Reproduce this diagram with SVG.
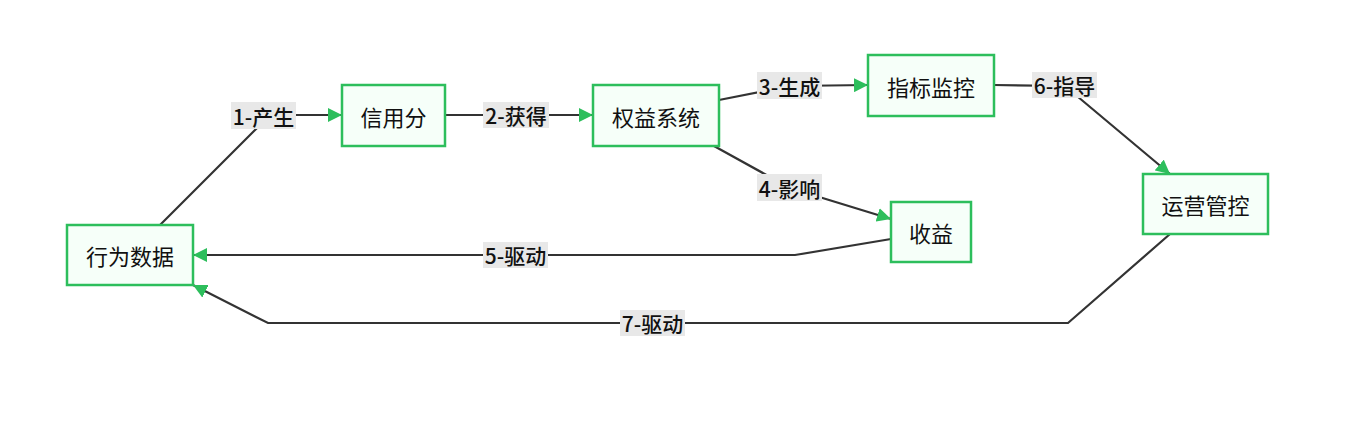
<svg xmlns="http://www.w3.org/2000/svg" width="1372" height="430" viewBox="0 0 1372 430">
<style>
.node rect{fill:#f6fff9;stroke:#2dbe5c;stroke-width:2.5}
.node text{font-family:"Noto Sans CJK SC","Noto Sans",sans-serif;font-size:22px;fill:#111;text-anchor:middle;dominant-baseline:central}
.edge{fill:none;stroke:#333;stroke-width:2.2}
.lbl rect{fill:#e8e8e8}
.lbl text{font-family:"Noto Sans CJK SC","Noto Sans",sans-serif;font-size:21px;font-weight:500;fill:#111;text-anchor:middle;dominant-baseline:central}
</style>
<defs>
<marker id="arr" viewBox="0 0 10 10" refX="10" refY="5" markerWidth="14" markerHeight="14" markerUnits="userSpaceOnUse" orient="auto">
<path d="M0,0 L10,5 L0,10 z" fill="#2dbe5c"/>
</marker>
</defs>
<rect width="1372" height="430" fill="#fff"/>
<g id="edges">
<path class="edge" d="M160,225 L258,127 L264,115 L342,115" marker-end="url(#arr)"/>
<path class="edge" d="M445,115 L593,115" marker-end="url(#arr)"/>
<path class="edge" d="M719,100 L790,86 L868,85" marker-end="url(#arr)"/>
<path class="edge" d="M714,146 L790,188 L891,219" marker-end="url(#arr)"/>
<path class="edge" d="M891,239 L795,255 L193,255" marker-end="url(#arr)"/>
<path class="edge" d="M994,85 L1065,86 L1170,174" marker-end="url(#arr)"/>
<path class="edge" d="M1170,234 L1068,323 L268,323 L193,285" marker-end="url(#arr)"/>
</g>
<g id="labels">
<g class="lbl"><rect x="231" y="102" width="65" height="27"/><text x="263.5" y="115.5">1-产生</text></g>
<g class="lbl"><rect x="483" y="102" width="66" height="26"/><text x="516" y="115">2-获得</text></g>
<g class="lbl"><rect x="757" y="72" width="65" height="27"/><text x="789.5" y="85.5">3-生成</text></g>
<g class="lbl"><rect x="757" y="174" width="65" height="27"/><text x="789.5" y="187.5">4-影响</text></g>
<g class="lbl"><rect x="483" y="242" width="65" height="26"/><text x="515.5" y="255">5-驱动</text></g>
<g class="lbl"><rect x="1032" y="72" width="65" height="26"/><text x="1064.5" y="85">6-指导</text></g>
<g class="lbl"><rect x="620" y="310" width="65" height="26"/><text x="652.5" y="323">7-驱动</text></g>
</g>
<g id="n-xwsj" class="node"><rect x="67" y="225" width="126" height="60"/><text x="130" y="255">行为数据</text></g>
<g id="n-xyf" class="node"><rect x="342" y="85" width="103" height="61"/><text x="393.5" y="115.5">信用分</text></g>
<g id="n-qyxt" class="node"><rect x="593" y="85" width="126" height="61"/><text x="656" y="115.5">权益系统</text></g>
<g id="n-zbjk" class="node"><rect x="868" y="55" width="126" height="61"/><text x="931" y="85.5">指标监控</text></g>
<g id="n-sy" class="node"><rect x="891" y="202" width="80" height="60"/><text x="931" y="232">收益</text></g>
<g id="n-yygk" class="node"><rect x="1143" y="174" width="125" height="60"/><text x="1205.5" y="204">运营管控</text></g>
</svg>
